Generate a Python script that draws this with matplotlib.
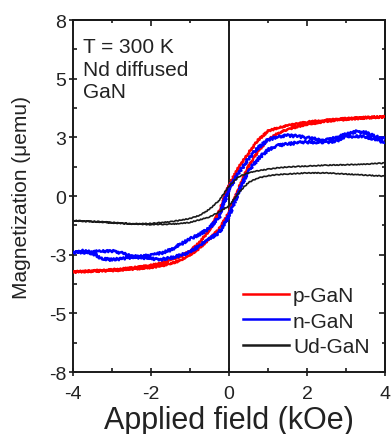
import matplotlib
matplotlib.use("Agg")
import matplotlib.pyplot as plt
from matplotlib.ticker import FixedLocator, MultipleLocator, FormatStrFormatter
import numpy as np

plt.rcParams['font.family'] = ['Liberation Sans', 'DejaVu Sans']

# ---- data ----
# descending branch (field +4 -> -4)
p_desc_H = [4, 3.5, 3, 2.5, 2, 1.75, 1.5, 1.25, 1, 0.75, 0.5, 0.25, 0, -0.25, -0.5, -0.75, -1, -1.25, -1.5, -1.75, -2, -2.5, -3, -3.5, -4]
p_desc_M = [3.6, 3.57, 3.52, 3.45, 3.36, 3.28, 3.2, 3.1, 2.95, 2.55, 1.95, 1.3, 0.5, -0.7, -1.55, -2.1, -2.5, -2.75, -2.92, -3.05, -3.15, -3.27, -3.35, -3.4, -3.45]
# ascending branch (field -4 -> +4)
p_asc_H = [-4, -3.5, -3, -2.5, -2, -1.75, -1.5, -1.25, -1, -0.75, -0.5, -0.25, 0, 0.25, 0.5, 0.75, 1, 1.25, 1.5, 1.75, 2, 2.5, 3, 3.5, 4]
p_asc_M = [-3.45, -3.43, -3.4, -3.33, -3.25, -3.18, -3.08, -2.93, -2.7, -2.35, -1.95, -1.5, -0.75, 0.35, 1.35, 2.05, 2.55, 2.85, 3.03, 3.15, 3.25, 3.4, 3.48, 3.55, 3.6]

n_desc_H = [4, 3.75, 3.5, 3.25, 3, 2.75, 2.5, 2.25, 2, 1.75, 1.5, 1.25, 1, 0.75, 0.5, 0.25, 0, -0.25, -0.5, -0.75, -1, -1.25, -1.5, -1.75, -2, -2.5, -2.75, -3, -3.25, -3.5, -3.75, -4]
n_desc_M = [2.6, 2.7, 2.88, 2.92, 2.8, 2.65, 2.55, 2.58, 2.65, 2.72, 2.75, 2.7, 2.55, 2.2, 1.7, 1.05, 0.35, -0.95, -1.45, -1.75, -1.95, -2.2, -2.45, -2.6, -2.7, -2.78, -2.85, -2.9, -2.85, -2.6, -2.55, -2.55]
n_asc_H = [-4, -3.75, -3.5, -3.25, -3, -2.75, -2.5, -2.25, -2, -1.75, -1.5, -1.25, -1, -0.75, -0.5, -0.25, 0, 0.25, 0.5, 0.75, 1, 1.25, 1.5, 1.75, 2, 2.25, 2.5, 2.75, 3, 3.25, 3.5, 3.75, 4]
n_asc_M = [-2.55, -2.5, -2.55, -2.5, -2.5, -2.6, -2.75, -2.8, -2.85, -2.88, -2.82, -2.7, -2.55, -2.25, -1.95, -1.65, -0.9, 0.2, 1.14, 1.7, 2.1, 2.3, 2.36, 2.42, 2.45, 2.45, 2.45, 2.5, 2.7, 2.72, 2.7, 2.55, 2.45]

u_desc_H = [4, 3.5, 3, 2.5, 2, 1.5, 1.25, 1, 0.75, 0.5, 0.25, 0, -0.25, -0.5, -0.75, -1, -1.25, -1.5, -2, -2.5, -3, -3.5, -4]
u_desc_M = [1.5, 1.45, 1.42, 1.4, 1.36, 1.32, 1.28, 1.22, 1.15, 1.05, 0.88, 0.45, -0.2, -0.6, -0.88, -1.02, -1.1, -1.17, -1.25, -1.27, -1.22, -1.17, -1.12]
u_asc_H = [-4, -3.5, -3, -2.5, -2, -1.5, -1.25, -1, -0.75, -0.5, -0.25, 0, 0.25, 0.5, 0.75, 1, 1.25, 1.5, 2, 2.5, 3, 3.5, 4]
u_asc_M = [-1.12, -1.15, -1.2, -1.27, -1.3, -1.28, -1.25, -1.2, -1.08, -0.95, -0.72, -0.45, 0.15, 0.62, 0.82, 0.92, 0.97, 1.0, 1.05, 1.05, 1.0, 0.95, 0.9]

series_names = ['p-GaN', 'n-GaN', 'Ud-GaN']
series_colors = ['#ff0000', '#0000ff', '#1a1a1a']

y_ticks = np.linspace(-8, 8, 7)
x_ticks = [-4, -2, 0, 2, 4]

# ---- figure ----
fig = plt.figure(figsize=(3.91, 4.35), dpi=100)
ax = fig.add_axes([0.1867, 0.1425, 0.798, 0.8092])

ax.axvline(0, color='#1a1a1a', lw=1.4, zorder=1)

loops = [
    (p_desc_H + p_asc_H, p_desc_M + p_asc_M, 1.8, (0.8, 3, 2)),
    (n_desc_H + n_asc_H, n_desc_M + n_asc_M, 1.8, (1.3, 3, 2)),
    (u_desc_H + u_asc_H, u_desc_M + u_asc_M, 1.2, (0.4, 4, 2)),
]
handles = []
for (H, M, lw, sk), name, col in zip(loops, series_names, series_colors):
    ln, = ax.plot(H, M, color=col, lw=lw, zorder=3)
    ln.set_sketch_params(*sk)
    h, = ax.plot([], [], color=col, lw=1.8, label=name)
    handles.append(h)

ax.set_xlim(-4, 4)
ax.set_ylim(-8, 8)
ax.xaxis.set_major_locator(FixedLocator(x_ticks))
ax.xaxis.set_minor_locator(MultipleLocator(1))
ax.yaxis.set_major_locator(FixedLocator(y_ticks))
ax.yaxis.set_minor_locator(MultipleLocator(4 / 3))
ax.yaxis.set_major_formatter(FormatStrFormatter('%.0f'))
ax.xaxis.set_major_formatter(FormatStrFormatter('%.0f'))

for s in ax.spines.values():
    s.set_linewidth(1.4)
    s.set_color('#1a1a1a')

ax.tick_params(which='major', direction='inout', length=6, width=1.2, labelsize=14,
               colors='#1a1a1a', labelcolor='#222222')
ax.tick_params(which='minor', direction='in', length=3, width=1.2, colors='#1a1a1a')
ax.tick_params(axis='x', which='major', pad=6)
ax.tick_params(axis='y', which='major', pad=2)

# top / right inward ticks
secx = ax.secondary_xaxis('top')
secx.xaxis.set_major_locator(FixedLocator(x_ticks))
secx.xaxis.set_minor_locator(MultipleLocator(1))
secx.tick_params(which='major', direction='in', length=4, width=1.2, labeltop=False, colors='#1a1a1a')
secx.tick_params(which='minor', direction='in', length=2.5, width=1.2, colors='#1a1a1a')
secx.spines['top'].set_linewidth(1.4)
secy = ax.secondary_yaxis('right')
secy.yaxis.set_major_locator(FixedLocator(y_ticks))
secy.yaxis.set_minor_locator(MultipleLocator(4 / 3))
secy.tick_params(which='major', direction='in', length=4, width=1.2, labelright=False, colors='#1a1a1a')
secy.tick_params(which='minor', direction='in', length=2.5, width=1.2, colors='#1a1a1a')
secy.spines['right'].set_linewidth(1.4)

ax.set_xlabel('Applied field (kOe)', fontsize=22, color='#222222', labelpad=2.5)
ax.set_ylabel('Magnetization (\u03bcemu)', fontsize=15, color='#222222', labelpad=13)

ax.text(0.032, 0.952, 'T = 300 K\nNd diffused\nGaN', transform=ax.transAxes,
        ha='left', va='top', fontsize=15, linespacing=1.25, color='#222222')

leg = ax.legend(handles=handles, loc='upper left', bbox_to_anchor=(0.545, 0.244),
                frameon=False, fontsize=15, handlelength=2.2, handletextpad=0.2,
                labelspacing=0.32, borderpad=0, borderaxespad=0)
for t in leg.get_texts():
    t.set_color('#222222')

fig.savefig('out.png', dpi=100)
